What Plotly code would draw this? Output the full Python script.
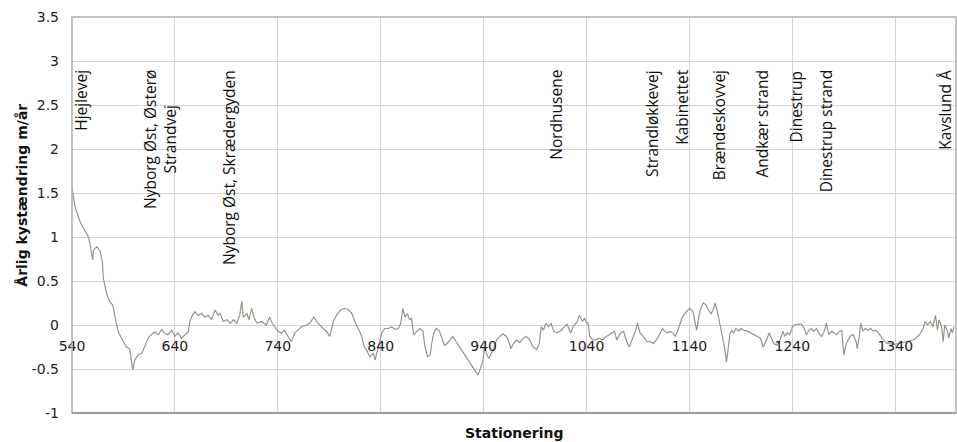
import plotly.graph_objects as go

stations = [540, 543, 548, 552, 556, 558, 560, 561, 564, 567, 569.5, 570.5, 574, 577, 579.5, 582, 585, 590, 593, 596,
            599, 601, 604, 608, 611, 614, 617, 620.5, 624, 627, 630, 633, 637, 640, 643, 646.5, 650, 653, 654.5, 657,
            659.5, 662.5, 666, 669, 672.5, 675.5, 679, 682, 684, 687, 690.5, 694, 697, 700, 703, 705, 706.5, 710,
            712, 714.5, 717, 720, 724, 729, 732, 734.5, 737, 740, 743.5, 746.5, 750, 753, 756.5, 759.5, 763, 768,
            771, 775, 779, 784, 787, 790.5, 794, 797, 801, 805, 809, 812, 815.5, 819, 821.5, 824, 826, 829.5, 833,
            834.5, 836.5, 838.5, 841, 844, 847.5, 850.5, 854, 857, 859.5, 861.5, 863.5, 866, 868, 870, 872, 875, 878,
            881, 883, 885.5, 888, 889.5, 891.5, 894, 897, 900, 902, 904.5, 907, 910, 934.5, 937, 939, 941, 942.5,
            945, 947.5, 950, 952.5, 955.5, 959, 962, 964, 966.5, 969, 972, 975, 978.5, 981.5, 985, 988, 991.5, 994,
            996, 998, 1000.5, 1003, 1005.5, 1008, 1011, 1014.5, 1018, 1021, 1024.5, 1027, 1031, 1033, 1036, 1038,
            1040, 1041.5, 1043, 1046, 1049, 1052, 1055.5, 1059, 1062, 1064, 1067, 1069.5, 1073, 1076, 1079, 1081.5,
            1085, 1087.5, 1089.5, 1092, 1095, 1098.5, 1101.5, 1105, 1108, 1111, 1114, 1116, 1118.5, 1121, 1124, 1126,
            1128.5, 1131, 1133, 1137, 1140, 1143.5, 1145, 1147, 1149, 1151, 1153.5, 1156, 1158.5, 1161, 1163, 1165,
            1167.5, 1170, 1171.5, 1174, 1176, 1178, 1179.5, 1181, 1183, 1185, 1188, 1190, 1193, 1196.5, 1200, 1203,
            1206, 1209, 1211.5, 1215, 1217.5, 1220, 1222, 1225, 1228, 1231, 1232.5, 1235, 1237.5, 1240, 1242.5,
            1245.5, 1249, 1251.5, 1253.5, 1256, 1258.5, 1261, 1263.5, 1265.5, 1268.5, 1271, 1273, 1275.5, 1278,
            1280.5, 1283, 1286, 1288, 1290, 1292.5, 1296, 1299, 1302, 1303, 1305, 1306.5, 1308.5, 1311, 1313.5, 1316,
            1318.5, 1321, 1323.5, 1326, 1328.5, 1332, 1340, 1350, 1357, 1360, 1363.5, 1367, 1369, 1371.5, 1374,
            1376.5, 1379, 1381, 1382.5, 1385, 1386.5, 1388, 1390.5, 1392, 1394, 1395.5, 1397]

change = [1.57, 1.34, 1.17, 1.08, 1.00, 0.89, 0.74, 0.85, 0.89, 0.85, 0.72, 0.53, 0.34, 0.26, 0.23, 0.08, -0.08, -0.19,
          -0.25, -0.27, -0.51, -0.40, -0.34, -0.32, -0.23, -0.15, -0.11, -0.08, -0.11, -0.05, -0.09, -0.11, -0.06,
          -0.13, -0.09, -0.15, -0.11, -0.08, 0.04, 0.11, 0.15, 0.11, 0.13, 0.09, 0.11, 0.06, 0.17, 0.11, 0.13, 0.04,
          0.06, 0.02, 0.06, 0.02, 0.11, 0.27, 0.09, 0.13, 0.06, 0.19, 0.08, 0.02, 0.04, 0.00, 0.09, 0.02, -0.02,
          -0.07, -0.09, -0.06, -0.13, -0.19, -0.09, -0.06, -0.02, 0.00, 0.02, 0.09, 0.02, -0.04, -0.07, -0.13, 0.04,
          0.11, 0.17, 0.19, 0.17, 0.13, 0.02, -0.06, -0.13, -0.25, -0.28, -0.36, -0.32, -0.40, -0.32, -0.21, -0.09,
          -0.04, -0.04, -0.02, -0.05, -0.04, 0.02, 0.19, 0.09, 0.13, 0.06, 0.08, -0.11, -0.07, -0.04, -0.07, -0.25,
          -0.36, -0.34, -0.21, -0.09, -0.04, -0.07, -0.17, -0.23, -0.21, -0.17, -0.13, -0.57, -0.49, -0.42, -0.25,
          -0.32, -0.38, -0.32, -0.26, -0.17, -0.13, -0.10, -0.13, -0.17, -0.27, -0.21, -0.17, -0.20, -0.15, -0.13,
          -0.17, -0.25, -0.28, -0.21, -0.02, -0.06, 0.02, -0.02, 0.02, -0.07, -0.09, -0.07, -0.02, 0.01, -0.09,
          -0.02, 0.04, 0.11, 0.04, 0.08, 0.02, 0.03, -0.13, -0.17, -0.17, -0.15, -0.17, -0.13, -0.11, -0.09, -0.07,
          -0.17, -0.09, -0.07, -0.19, -0.25, -0.15, -0.07, 0.02, -0.09, -0.13, -0.19, -0.19, -0.21, -0.17, -0.11,
          -0.04, -0.07, -0.09, -0.07, -0.09, -0.13, -0.07, 0.02, 0.09, 0.15, 0.19, 0.15, 0.04, -0.06, 0.09, 0.19,
          0.25, 0.23, 0.17, 0.13, 0.17, 0.25, 0.13, -0.02, -0.13, -0.25, -0.42, -0.21, -0.09, -0.06, -0.09, -0.04,
          -0.07, -0.04, -0.06, -0.07, -0.09, -0.11, -0.13, -0.15, -0.25, -0.17, -0.09, -0.17, -0.21, -0.23, -0.17,
          -0.07, -0.13, -0.09, -0.11, -0.02, 0.00, 0.01, 0.01, -0.04, -0.11, -0.06, -0.04, -0.07, -0.04, -0.09,
          -0.13, -0.07, 0.02, -0.11, -0.07, -0.09, -0.11, -0.07, -0.06, -0.34, -0.21, -0.13, -0.11, -0.19, -0.27,
          -0.13, 0.02, -0.07, -0.04, -0.06, -0.04, -0.07, -0.06, -0.09, -0.13, -0.17, -0.21, -0.22, -0.19, -0.17,
          -0.15, -0.11, -0.04, 0.04, 0.00, 0.04, -0.02, 0.11, -0.06, 0.06, -0.02, -0.19, 0.00, -0.06, -0.15, -0.04,
          -0.09, -0.02]

x_ticks = [540, 640, 740, 840, 940, 1040, 1140, 1240, 1340]
y_ticks = [-1, -0.5, 0, 0.5, 1, 1.5, 2, 2.5, 3, 3.5]
y_tick_labels = ["-1", "-0.5", "0", "0.5", "1", "1.5", "2", "2.5", "3", "3.5"]

place_names = ["Hjejlevej", "Nyborg Øst, Østerø<br>Strandvej", "Nyborg Øst, Skrædergyden", "Nordhusene",
               "Strandløkkevej", "Kabinettet", "Brændeskovvej", "Andkær strand", "Dinestrup",
               "Dinestrup strand", "Kavslund Å"]
place_stations = [548, 625, 692, 1010, 1103, 1132, 1169, 1211, 1244, 1273, 1388]

X_MIN, X_MAX = 540, 1399
Y_MIN, Y_MAX = -1, 3.5

fig = go.Figure()
fig.add_trace(go.Scatter(x=stations, y=change, mode="lines",
                         line=dict(color="#9a938c", width=1.2), showlegend=False, hoverinfo="skip"))

for name, st in zip(place_names, place_stations):
    fig.add_annotation(x=st, y=2.92, xref="x", yref="y", text=name, textangle=-90,
                       showarrow=False, xanchor="center", yanchor="top", align="center",
                       font=dict(family="Open Sans", size=15.5, color="#111111"))

fig.add_annotation(x=-0.056, y=0.55, xref="paper", yref="paper", text="<b>Årlig kystændring m/år</b>",
                   textangle=-90, showarrow=False, xanchor="center", yanchor="middle",
                   font=dict(family="DejaVu Sans", size=14, color="#111111"))
fig.add_annotation(x=0.5, y=-0.05, xref="paper", yref="paper", text="<b>Stationering</b>",
                   showarrow=False, xanchor="center", yanchor="middle",
                   font=dict(family="DejaVu Sans", size=14, color="#111111"))

# frame
fig.add_shape(type="rect", xref="paper", yref="paper", x0=0, x1=1, y0=0, y1=1,
              line=dict(color="#b0b0b0", width=1.5), layer="above")
fig.add_shape(type="line", xref="paper", yref="paper", x0=0, x1=1, y0=0, y1=0,
              line=dict(color="#8c8c8c", width=1.5), layer="above")

fig.update_layout(
    width=957, height=442,
    margin=dict(l=72, r=1, t=17, b=29),
    paper_bgcolor="white", plot_bgcolor="white",
    xaxis=dict(range=[X_MIN, X_MAX], tickvals=x_ticks, showgrid=True, gridcolor="#d4d4d4", gridwidth=1,
               zeroline=False, showline=False, ticks="", anchor="free",
               position=(0 - Y_MIN) / (Y_MAX - Y_MIN), ticklabelstandoff=11,
               tickfont=dict(family="DejaVu Sans", size=14, color="#222222")),
    yaxis=dict(range=[Y_MIN, Y_MAX], tickvals=y_ticks, ticktext=y_tick_labels, showgrid=True,
               gridcolor="#d4d4d4", gridwidth=1, zeroline=False, showline=False, ticks="",
               ticklabelstandoff=12,
               tickfont=dict(family="DejaVu Sans", size=14, color="#222222")),
)

fig.write_html("out.html", config={"displayModeBar": False},
               post_script="document.body.style.margin='0';document.body.style.overflow='hidden';")
